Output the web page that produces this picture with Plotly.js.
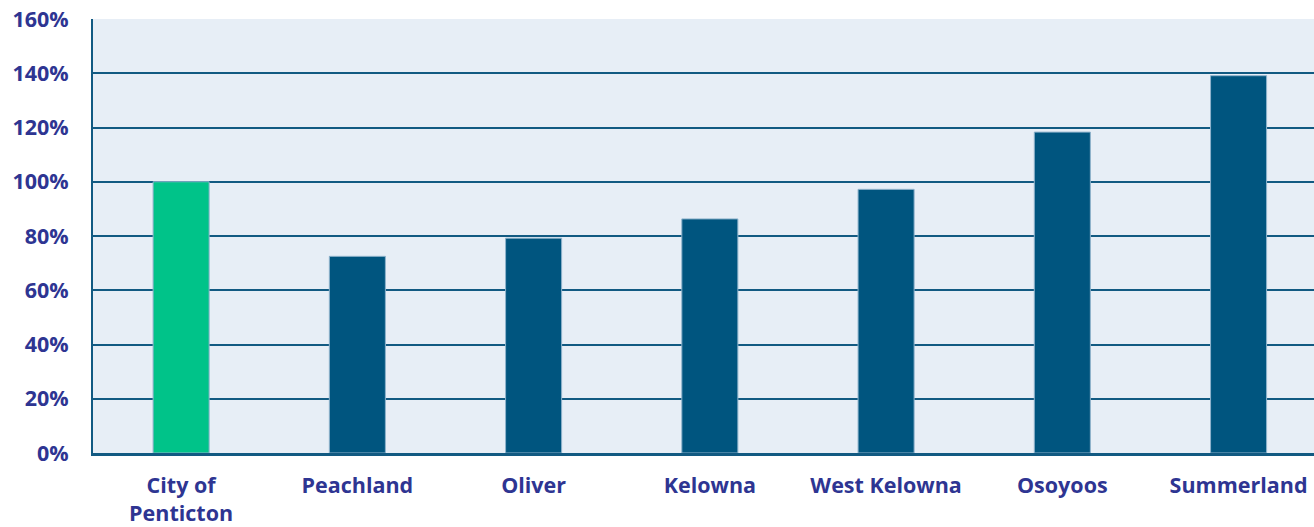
<!DOCTYPE html>
<html>
<head>
<meta charset="utf-8">
<script src="https://cdn.plot.ly/plotly-3.0.1.min.js"></script>
<style>html,body{margin:0;padding:0;background:#fff;}#chart{width:1314px;height:527px;}</style>
</head>
<body>
<div id="chart"></div>
<script>
const categories = ["City of<br>Penticton", "Peachland", "Oliver", "Kelowna", "West Kelowna", "Osoyoos", "Summerland"];
const values = [100, 72.5, 79.2, 86.3, 97.2, 118.3, 139.1];
const barColors = ["#00C389", "#00557F", "#00557F", "#00557F", "#00557F", "#00557F", "#00557F"];
const tickVals = [0, 20, 40, 60, 80, 100, 120, 140, 160];
const tickText = ["0%", "20%", "40%", "60%", "80%", "100%", "120%", "140%", "160%"];

const textColor = "#2E3592";
const gridColor = "#125A82";
const fontFam = "'Open Sans', Lato, sans-serif";

Plotly.newPlot("chart", [{
  type: "bar",
  x: categories,
  y: values,
  width: 0.318,
  marker: { color: barColors, line: { color: "#8FB3CC", width: 1 } },
  hoverinfo: "none"
}], {
  width: 1314,
  height: 527,
  margin: { l: 93, r: 0, t: 19, b: 74, pad: 0 },
  paper_bgcolor: "#ffffff",
  plot_bgcolor: "#E7EEF6",
  showlegend: false,
  font: { family: fontFam, color: textColor },
  xaxis: {
    type: "category",
    range: [-0.5, 6.428],
    showgrid: false,
    showline: true,
    linecolor: gridColor,
    linewidth: 3,
    ticks: "",
    ticklabelstandoff: 11,
    tickfont: { size: 21.5, color: textColor, family: fontFam, weight: "bold" },
    fixedrange: true
  },
  yaxis: {
    range: [0, 160],
    tickvals: tickVals,
    ticktext: tickText,
    showgrid: true,
    gridcolor: gridColor,
    gridwidth: 2,
    zeroline: false,
    showline: true,
    linecolor: gridColor,
    linewidth: 2,
    ticks: "",
    ticklabelstandoff: 18,
    tickfont: { size: 21.5, color: textColor, family: fontFam, weight: "bold" },
    fixedrange: true
  }
}, { displayModeBar: false, staticPlot: true });
</script>
</body>
</html>
